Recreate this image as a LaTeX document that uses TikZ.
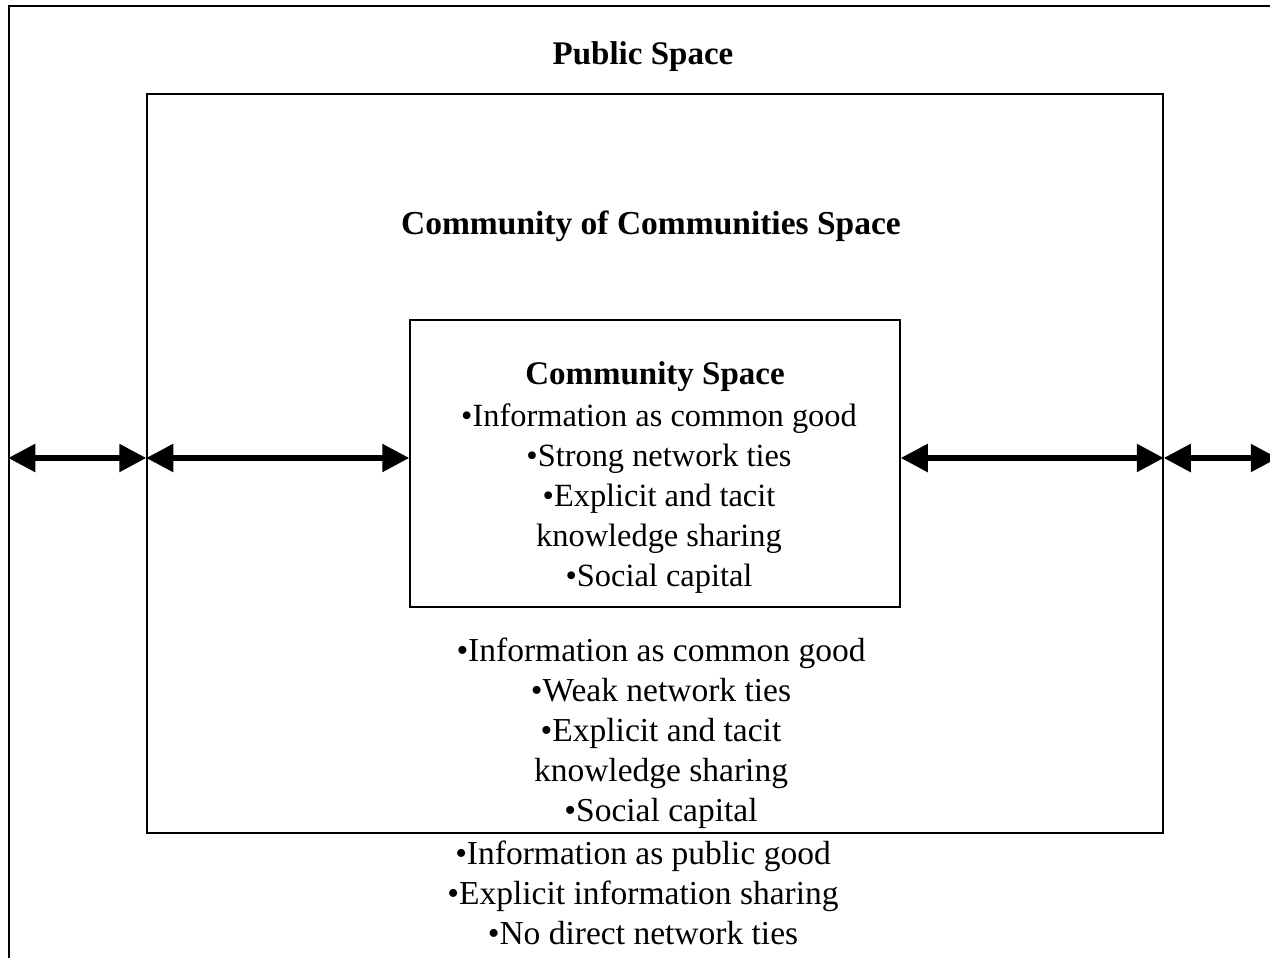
\documentclass[tikz,border=0pt]{standalone}
\usepackage{fontspec}
\setmainfont{Liberation Serif}
\usetikzlibrary{arrows.meta,calc}
\begin{document}
\begin{tikzpicture}[x=1pt,y=1pt,
  box/.style={draw,line width=1.5pt,rectangle,inner sep=0pt},
  txt/.style={align=center,inner sep=0pt,font=\fontsize{32.4}{40}\selectfont},
  txtb/.style={align=center,inner sep=0pt,font=\fontsize{33.5}{40}\selectfont},
  ttl/.style={inner sep=0pt,font=\fontsize{33}{40}\selectfont\bfseries},
  dbl/.style={line width=5.5pt,{Triangle[length=27pt,width=27pt]}-{Triangle[length=27pt,width=27pt]},shorten <=0pt,shorten >=0pt}]
\useasboundingbox (0,0) rectangle (1270,-958);
\node[box,minimum width=1268pt,minimum height=990pt] (outer) at (643,-501) {};
\node[box,minimum width=1016pt,minimum height=739pt] (mid) at (655,-463.5) {};
\node[box,minimum width=490pt,minimum height=287pt] (inner) at (655,-463.5) {};
\node[ttl] (t1) at (643,-57) {Public Space};
\node[ttl,font=\fontsize{33.5}{40}\selectfont\bfseries] (t2) at (651,-226) {Community of Communities Space};
\node[ttl] (t3) at (655,-377) {Community Space};
\node[txt,anchor=north] (l1) at (659,-403) {•Information as common good\\•Strong network ties\\•Explicit and tacit\\knowledge sharing\\•Social capital};
\node[txtb,anchor=north] (l2) at (661,-638) {•Information as common good\\•Weak network ties\\•Explicit and tacit\\knowledge sharing\\•Social capital};
\node[txtb,anchor=north] (l3) at (643,-841) {•Information as public good\\•Explicit information sharing\\•No direct network ties};
\coordinate (ay) at (0,-458);
\draw[dbl] (outer.west |- ay) -- (mid.west |- ay);
\draw[dbl] (mid.west |- ay) -- (inner.west |- ay);
\draw[dbl] (inner.east |- ay) -- (mid.east |- ay);
\draw[dbl] (mid.east |- ay) -- (outer.east |- ay);
\end{tikzpicture}
\end{document}
